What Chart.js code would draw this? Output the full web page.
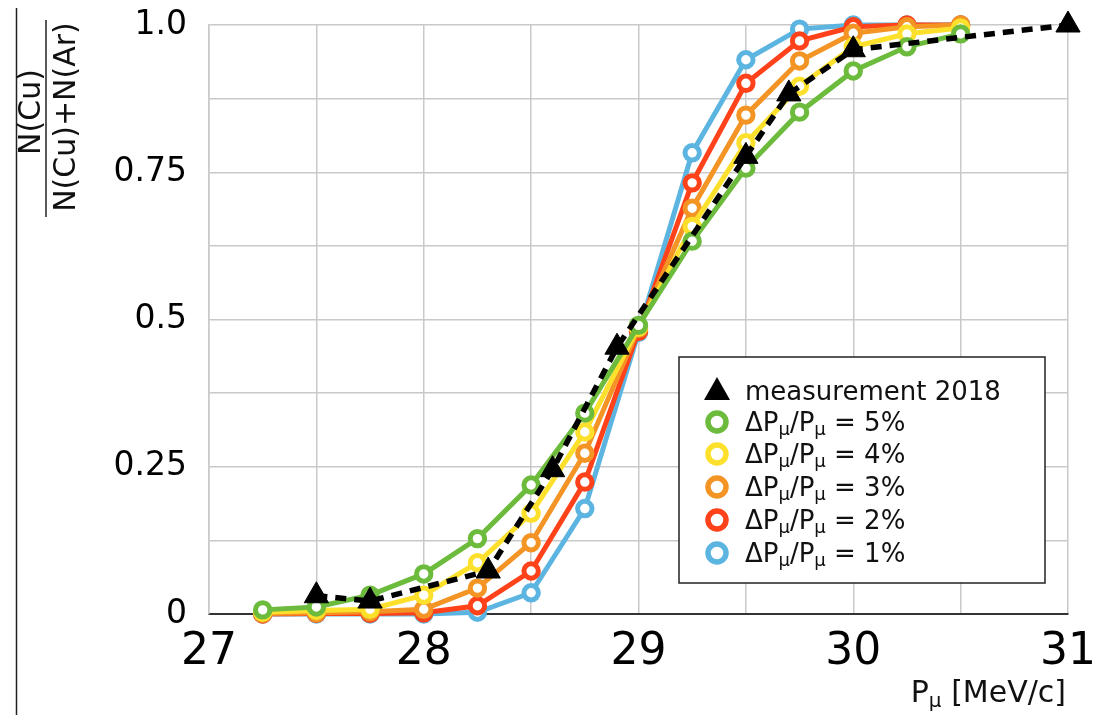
<!DOCTYPE html>
<html>
<head>
<meta charset="utf-8">
<title>N(Cu) ratio vs muon momentum</title>
<script src="https://cdn.jsdelivr.net/npm/chart.js@4/dist/chart.umd.min.js"></script>
<style>
  html, body { margin: 0; padding: 0; background: #fff; }
  #wrap { width: 1105px; height: 715px; }
</style>
</head>
<body>
<div id="wrap"><canvas id="ratioChart" width="1105" height="715"></canvas></div>
<script>
/* ---- data ---- */
const simMomentum = [27.25, 27.5, 27.75, 28, 28.25, 28.5, 28.75, 29, 29.25, 29.5, 29.75, 30, 30.25, 30.5];
const sim5 = [0.007, 0.012, 0.032, 0.068, 0.128, 0.219, 0.341, 0.49, 0.633, 0.757, 0.852, 0.922, 0.963, 0.985];
const sim4 = [0.003, 0.006, 0.008, 0.032, 0.087, 0.171, 0.309, 0.487, 0.658, 0.8, 0.896, 0.963, 0.985, 0.995];
const sim3 = [0.001, 0.002, 0.004, 0.008, 0.044, 0.121, 0.273, 0.485, 0.689, 0.847, 0.939, 0.986, 0.997, 1.0];
const sim2 = [0, 0.001, 0.001, 0.002, 0.014, 0.073, 0.224, 0.48, 0.732, 0.901, 0.973, 0.997, 1.0, 1.0];
const sim1 = [0, 0, 0, 0, 0.003, 0.036, 0.179, 0.478, 0.783, 0.941, 0.993, 1.0, 1.0, 1.0];

const measMomentum = [27.5, 27.75, 28.3, 28.6, 28.9, 29.5, 29.7, 30.0, 31.0];
const measRatio = [0.031, 0.022, 0.073, 0.245, 0.453, 0.777, 0.883, 0.958, 1.0];

const spreadLabels = ['5%', '4%', '3%', '2%', '1%'];
const spreadColors = ['#6cbb3c', '#fde02c', '#f39424', '#ff4219', '#5cb5e1'];
const xTickLabels = [27, 28, 29, 30, 31];
const yTickLabels = { 0: '0', 0.25: '0.25', 0.5: '0.5', 0.75: '0.75', 1: '1.0' };

const FONT = "'DejaVu Sans', 'Liberation Sans', sans-serif";

/* ---- helpers ---- */
const toPoints = (xs, ys) => xs.map((x, i) => ({ x, y: ys[i] }));

// draw text pieces, some of them as subscripts; returns width
function drawRich(ctx, parts, x, y, size, align) {
  const subSize = Math.round(size * 0.68);
  const widths = parts.map(([t, sub]) => {
    ctx.font = `${sub ? subSize : size}px ${FONT}`;
    return ctx.measureText(t).width;
  });
  const total = widths.reduce((a, b) => a + b, 0);
  let cx = align === 'right' ? x - total : x;
  ctx.textAlign = 'left';
  ctx.textBaseline = 'alphabetic';
  parts.forEach(([t, sub], i) => {
    ctx.font = `${sub ? subSize : size}px ${FONT}`;
    ctx.fillText(t, cx, sub ? y + size * 0.17 : y);
    cx += widths[i];
  });
  return total;
}

/* ---- titles, fraction label and legend ---- */
const annotations = {
  id: 'annotations',
  afterDraw(chart) {
    const ctx = chart.ctx;
    ctx.save();
    ctx.fillStyle = '#111';
    ctx.strokeStyle = '#222';

    // frame edge at the far left
    ctx.lineWidth = 1.5;
    ctx.beginPath(); ctx.moveTo(16.5, 8); ctx.lineTo(16.5, 715); ctx.stroke();

    // y title as a rotated fraction
    ctx.font = `30px ${FONT}`;
    ctx.textAlign = 'center';
    ctx.textBaseline = 'alphabetic';
    ctx.save(); ctx.translate(40, 112); ctx.rotate(-Math.PI / 2); ctx.fillText('N(Cu)', 0, 0); ctx.restore();
    ctx.save(); ctx.translate(75, 117); ctx.rotate(-Math.PI / 2); ctx.fillText('N(Cu)+N(Ar)', 0, 0); ctx.restore();
    ctx.beginPath(); ctx.moveTo(46, 20); ctx.lineTo(46, 217); ctx.stroke();

    // x title
    drawRich(ctx, [['P', false], ['\u03bc', true], [' [MeV/c]', false]], 1066, 702, 30, 'right');

    // legend
    const box = { left: 679, top: 357, right: 1045, bottom: 583 };
    ctx.fillStyle = '#fff';
    ctx.fillRect(box.left, box.top, box.right - box.left, box.bottom - box.top);
    ctx.lineWidth = 1.5;
    ctx.strokeStyle = '#222';
    ctx.strokeRect(box.left, box.top, box.right - box.left, box.bottom - box.top);

    const rowY = [390, 422, 454, 487, 520, 553];
    const mx = 717, tx = 745;
    // triangle entry
    ctx.fillStyle = '#000';
    ctx.beginPath();
    ctx.moveTo(mx, rowY[0] - 13);
    ctx.lineTo(mx + 13, rowY[0] + 10);
    ctx.lineTo(mx - 13, rowY[0] + 10);
    ctx.closePath(); ctx.fill();
    ctx.fillStyle = '#111';
    drawRich(ctx, [['measurement 2018', false]], tx, rowY[0] + 10, 26, 'left');

    spreadLabels.forEach((lab, i) => {
      const y = rowY[i + 1];
      ctx.beginPath();
      ctx.arc(mx, y, 9, 0, Math.PI * 2);
      ctx.fillStyle = '#fff'; ctx.fill();
      ctx.lineWidth = 5.5; ctx.strokeStyle = spreadColors[i]; ctx.stroke();
      ctx.fillStyle = '#111';
      drawRich(ctx, [['\u0394P', false], ['\u03bc', true], ['/P', false], ['\u03bc', true], [' = ' + lab, false]], tx, y + 9, 26, 'left');
    });
    ctx.restore();
  }
};

/* ---- datasets: index 0 is drawn on top ---- */
const simSeries = [sim5, sim4, sim3, sim2, sim1];
const datasets = [{
  label: 'measurement 2018',
  data: toPoints(measMomentum, measRatio),
  borderColor: '#000',
  backgroundColor: '#000',
  borderWidth: 5.5,
  borderDash: [11, 8],
  borderCapStyle: 'butt',
  pointStyle: 'triangle',
  pointRadius: 14,
  pointBorderWidth: 1,
  pointBackgroundColor: '#000',
  pointBorderColor: '#000',
  tension: 0,
  clip: false
}].concat(simSeries.map((vals, i) => ({
  label: '\u0394P\u03bc/P\u03bc = ' + spreadLabels[i],
  data: toPoints(simMomentum, vals),
  borderColor: spreadColors[i],
  backgroundColor: spreadColors[i],
  borderWidth: 5,
  pointStyle: 'circle',
  pointRadius: 7.2,
  pointBorderWidth: 5,
  pointBackgroundColor: '#fff',
  pointBorderColor: spreadColors[i],
  tension: 0,
  clip: false
})));

new Chart(document.getElementById('ratioChart'), {
  type: 'line',
  data: { datasets },
  options: {
    responsive: false,
    animation: false,
    layout: { padding: { left: 0, right: 37, top: 25, bottom: 0 } },
    plugins: { legend: { display: false }, tooltip: { enabled: false } },
    scales: {
      x: {
        type: 'linear',
        min: 27, max: 31,
        afterFit: s => { s.height = 101; s.paddingLeft = 0; s.paddingRight = 0; },
        grid: { color: '#c9c9c9', lineWidth: 1.5, drawTicks: false },
        border: { color: '#333', width: 2 },
        ticks: {
          stepSize: 0.5,
          autoSkip: false,
          maxRotation: 0,
          padding: 12,
          color: '#000',
          font: { family: FONT, size: 44 },
          callback: v => xTickLabels.includes(v) ? String(v) : ''
        }
      },
      y: {
        type: 'linear',
        min: 0, max: 1,
        afterFit: s => { s.width = 209; s.paddingTop = 0; s.paddingBottom = 0; },
        grid: { color: '#c9c9c9', lineWidth: 1.5, drawTicks: false },
        border: { color: '#c9c9c9', width: 1.5 },
        ticks: {
          stepSize: 0.125,
          autoSkip: false,
          padding: 22,
          color: '#000',
          font: { family: FONT, size: 33 },
          callback: v => yTickLabels[v] !== undefined ? yTickLabels[v] : ''
        }
      }
    }
  },
  plugins: [annotations]
});
</script>
</body>
</html>
